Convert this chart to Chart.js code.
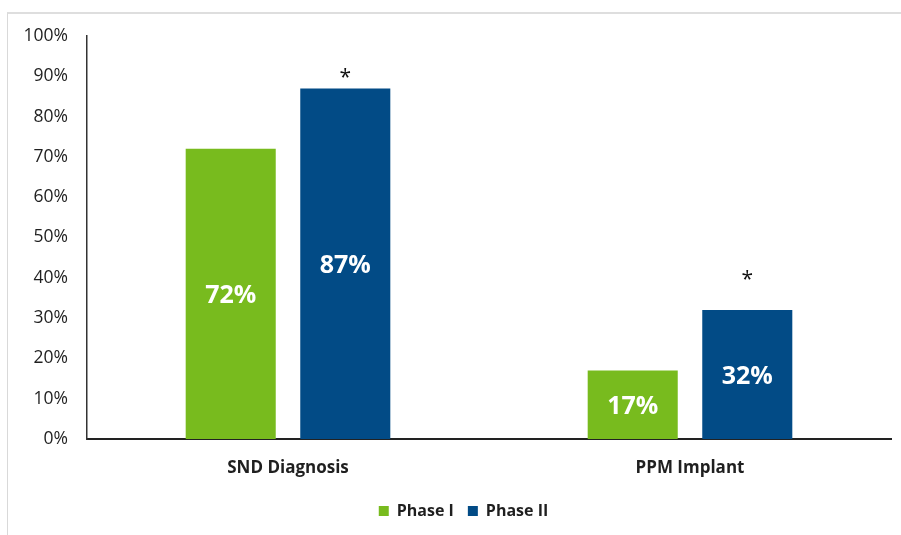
<!DOCTYPE html>
<html>
<head>
<meta charset="utf-8">
<script src="https://cdn.jsdelivr.net/npm/chart.js@4.4.0/dist/chart.umd.min.js"></script>
<style>
  html, body { margin: 0; padding: 0; background: #fff; }
  #wrap { position: relative; width: 901px; height: 535px; overflow: hidden; }
  #frame { position: absolute; left: 7px; top: 12px; width: 1000px; height: 1000px;
           border-left: 1px solid #d9d9d9; border-top: 2px solid #dedede; }
  #chart { position: absolute; left: 0; top: 0; }
</style>
</head>
<body>
<div id="wrap">
  <div id="frame"></div>
  <canvas id="chart" width="901" height="535"></canvas>
</div>
<script>
// données
const categories = ['SND Diagnosis', 'PPM Implant'];
const phase1 = [72, 17];
const phase2 = [87, 32];
// hauteur (en %) des astérisques au-dessus des barres Phase II
const phase2Stars = [90.5, 40.5];

const TXT = '#1f1f1f';
const FONT = "'Open Sans', sans-serif";

// Plugin : valeurs au centre des barres + astérisques
const barLabelsPlugin = {
  id: 'barLabels',
  afterLayout(chart) {
    // la légende de l'original n'est pas centrée sur le canvas, on la décale
    chart.legend.left += 18;
    chart.legend.right += 18;
  },
  afterDatasetsDraw(chart) {
    const ctx = chart.ctx;
    const yScale = chart.scales.y;
    ctx.save();
    ctx.textAlign = 'center';
    ctx.textBaseline = 'middle';

    chart.data.datasets.forEach((ds, di) => {
      const meta = chart.getDatasetMeta(di);
      meta.data.forEach((bar, i) => {
        ctx.font = 'bold 25px ' + FONT;
        ctx.fillStyle = '#fff';
        ctx.fillText(ds.data[i] + '%', bar.x, (bar.y + bar.base) / 2 + 2);

        if (ds.stars && ds.stars[i] != null) {
          ctx.font = '21px ' + FONT;
          ctx.fillStyle = '#111';
          ctx.fillText('*', bar.x, yScale.getPixelForValue(ds.stars[i]) + 4);
        }
      });
    });
    ctx.restore();
  }
};

new Chart(document.getElementById('chart'), {
  type: 'bar',
  data: {
    labels: categories,
    datasets: [
      {
        label: 'Phase I',
        data: phase1,
        backgroundColor: '#78bb1e'
      },
      {
        label: 'Phase II',
        data: phase2,
        stars: phase2Stars,
        backgroundColor: '#024b86'
      }
    ]
  },
  options: {
    responsive: false,
    animation: false,
    devicePixelRatio: 1,
    categoryPercentage: 0.57,
    barPercentage: 0.786,
    layout: { padding: { left: 0, right: 10, top: 36, bottom: 6 } },
    scales: {
      x: {
        grid: { display: false },
        border: { color: '#222', width: 2 },
        ticks: {
          color: TXT,
          font: { family: FONT, size: 17, weight: 'bold' },
          padding: 11
        },
        afterFit(scale) { scale.height = 50; }
      },
      y: {
        min: 0,
        max: 100,
        grid: { display: false },
        border: { color: '#333', width: 1.5 },
        ticks: {
          stepSize: 10,
          color: TXT,
          font: { family: FONT, size: 17.5 },
          padding: 11,
          callback: v => v + '%'
        },
        afterFit(scale) { scale.width = 87; }
      }
    },
    plugins: {
      legend: {
        position: 'bottom',
        labels: {
          boxWidth: 10,
          boxHeight: 10,
          padding: 14,
          color: TXT,
          font: { family: FONT, size: 16, weight: 'bold' }
        }
      },
      tooltip: { enabled: false }
    }
  },
  plugins: [barLabelsPlugin]
});
</script>
</body>
</html>
